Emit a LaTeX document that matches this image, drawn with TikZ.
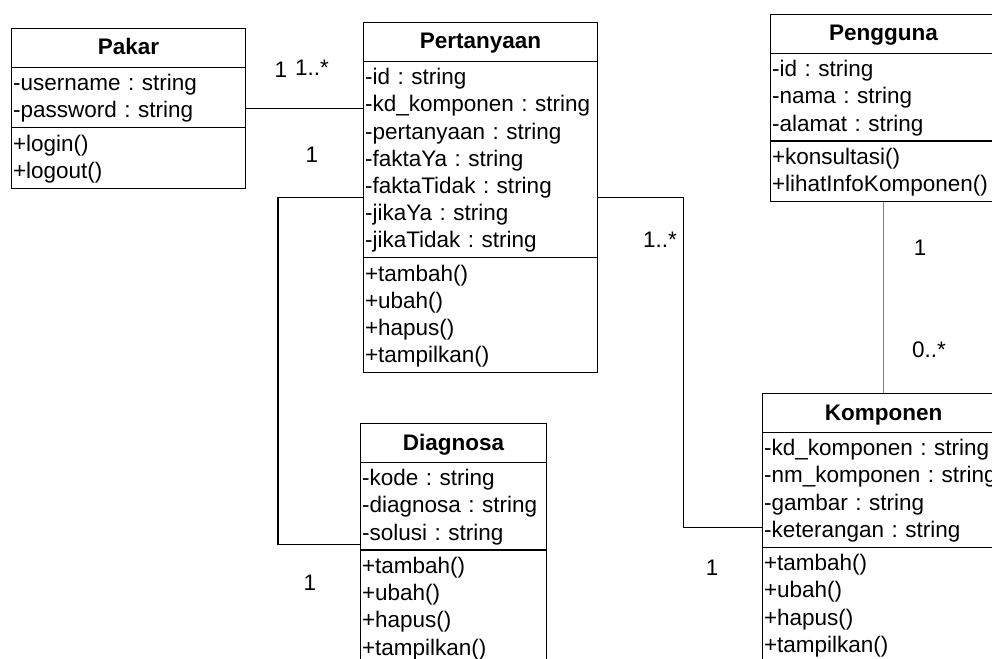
\documentclass[tikz,border=0pt]{standalone}
\usepackage{fontspec}
\setmainfont{Liberation Sans}
\usetikzlibrary{shapes.multipart}
\frenchspacing

\newcommand{\umltitle}[1]{\rule[-9.2pt]{0pt}{32.6pt}\textbf{#1}}

\begin{document}
\begin{tikzpicture}[x=1pt, y=-1pt,
    umlclass/.style={draw, line width=1.1pt, rectangle split, rectangle split parts=3,
      anchor=north west, inner xsep=1.5pt, inner ysep=2.5pt, text width=#1, align=left,
      font=\fontsize{22.5}{27.2}\selectfont,
      execute at begin node=\rule[-6.8pt]{0pt}{27.2pt},
      execute at end node=\rule[-6.8pt]{0pt}{27.2pt}},
    mult/.style={font=\fontsize{22.5}{27.2}\selectfont, inner sep=0pt},
    link/.style={line width=1.1pt}]
    \useasboundingbox (0,0) rectangle (992,658);

    % Classes
    \node[umlclass=231pt] (pakar) at (11,28) {\hfill\umltitle{Pakar}\hfill
        \nodepart{two} -username : string\\-password : string
        \nodepart{three} +login()\\+logout()};
    \node[umlclass=231pt] (pert) at (363,22) {\hfill\umltitle{Pertanyaan}\hfill
        \nodepart{two} -id : string\\-kd\_komponen : string\\-pertanyaan : string\\-faktaYa : string\\-faktaTidak : string\\-jikaYa : string\\-jikaTidak : string
        \nodepart{three} +tambah()\\+ubah()\\+hapus()\\+tampilkan()};
    \node[umlclass=183pt] (diag) at (360,423) {\hfill\umltitle{Diagnosa}\hfill
        \nodepart{two} -kode : string\\-diagnosa : string\\-solusi : string
        \nodepart{three} +tambah()\\+ubah()\\+hapus()\\+tampilkan()};
    \node[umlclass=223pt] (peng) at (770,14) {\hfill\umltitle{Pengguna}\hfill
        \nodepart{two} -id : string\\-nama : string\\-alamat : string
        \nodepart{three} +konsultasi()\\+lihatInfoKomponen()};
    \node[umlclass=239pt] (komp) at (762,393) {\hfill\umltitle{Komponen}\hfill
        \nodepart{two} -kd\_komponen : string\\-nm\_komponen : string\\-gambar : string\\-keterangan : string
        \nodepart{three} +tambah()\\+ubah()\\+hapus()\\+tampilkan()};

    % Associations
    \draw[link] (pakar.east) -- (pakar.east -| pert.west);
    \draw[link] (pert.west) -- ++(-85,0) |- (diag.west);
    \draw[link] (pert.east) -- ++(85,0) |- (komp.west);
    \draw[gray, line width=0.7pt] (peng.south) -- (komp.north);

    % Multiplicities
    \node[mult] (m-pakar) at (281,70) {1};
    \node[mult] (m-pert) at (312,68) {1..*};
    \node[mult] (m-pert2) at (312,155) {1};
    \node[mult] (m-diag) at (310,583) {1};
    \node[mult] (m-pert3) at (660,240) {1..*};
    \node[mult] (m-komp) at (712,568) {1};
    \node[mult] (m-peng) at (920,248) {1};
    \node[mult] (m-komp2) at (929,350) {0..*};
\end{tikzpicture}
\end{document}
